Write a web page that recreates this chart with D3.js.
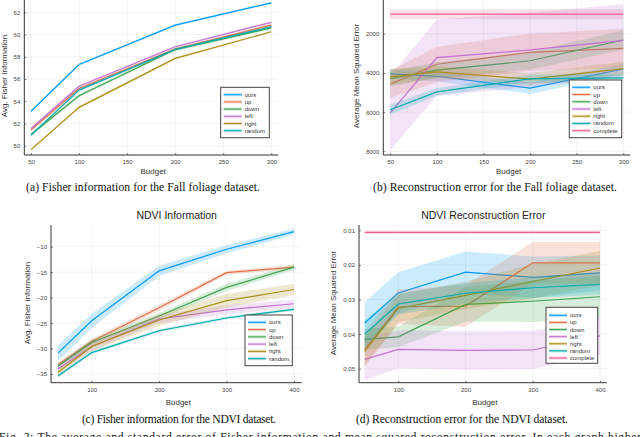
<!DOCTYPE html>
<html lang="en">
<head>
<meta charset="utf-8">
<title>Fisher information and reconstruction error</title>
<script src="https://cdn.jsdelivr.net/npm/d3@7"></script>
<style>
  body { margin: 0; background: #fff; }
  svg { display: block; }
  .tick text { font-family: "Liberation Sans", Arial, sans-serif; fill: #444; }
  .cap { font-family: "Liberation Serif", "Times New Roman", serif; fill: #111; }
</style>
</head>
<body>
<script>
// methods and colours (Julia Plots default palette)
var methods = ["ours", "up", "down", "left", "right", "random", "complete"];
var colors = ["#009AFA", "#E36F47", "#3EA44E", "#C371D2", "#AC8E18", "#00A9AD", "#ED5E93"];

var budgetFall = [50, 100, 200, 300];
var budgetNdvi = [50, 100, 200, 300, 400];

// (a) Fall foliage, Fisher information (ours, up, down, left, right, random)
var fallFisherMean = [
  [53.1, 57.3, 60.85, 62.85],
  [51.4, 55.15, 58.7, 60.85],
  [51.0, 54.5, 58.65, 60.6],
  [51.55, 55.35, 58.9, 61.1],
  [49.65, 53.45, 57.85, 60.25],
  [50.95, 55.0, 58.65, 60.7]
];
var fallFisherErr = [
  [0.1, 0.1, 0.1, 0.1],
  [0.12, 0.12, 0.12, 0.12],
  [0.15, 0.15, 0.15, 0.15],
  [0.12, 0.12, 0.12, 0.12],
  [0.1, 0.1, 0.1, 0.1],
  [0.12, 0.12, 0.12, 0.12]
];

// (b) Fall foliage, mean squared error (adds complete)
var fallMseMean = [
  [4050, 4170, 4780, 3800],
  [4580, 3560, 2950, 2750],
  [4300, 3860, 3380, 2320],
  [6040, 3220, 2830, 2340],
  [4200, 3950, 4320, 3780],
  [5880, 4970, 4300, 4250],
  [1000, 1000, 1000, 1000]
];
var fallMseErr = [
  [250, 250, 300, 250],
  [700, 900, 950, 1000],
  [400, 400, 450, 500],
  [1900, 1950, 1900, 1850],
  [400, 300, 300, 350],
  [250, 200, 200, 200],
  [250, 250, 250, 250]
];

// (c) NDVI, Fisher information
var ndviFisherMean = [
  [-30.9, -24.55, -14.75, -10.5, -7.05],
  [-33.2, -28.6, -22.0, -15.1, -14.0],
  [-33.5, -28.8, -23.6, -18.0, -14.0],
  [-34.0, -29.6, -24.2, -22.4, -21.2],
  [-34.7, -29.6, -24.4, -20.6, -18.4],
  [-35.4, -30.8, -26.5, -24.0, -22.3]
];
var ndviFisherErr = [
  [1.5, 1.4, 1.0, 0.8, 0.6],
  [0.4, 0.5, 0.6, 0.4, 0.4],
  [0.5, 0.6, 0.6, 0.7, 0.6],
  [0.6, 0.8, 0.8, 0.9, 0.8],
  [0.6, 0.9, 1.1, 1.3, 1.1],
  [0.3, 0.3, 0.3, 0.3, 0.3]
];

// (d) NDVI, mean squared error
var ndviMseMean = [
  [0.0368, 0.0281, 0.0221, 0.0236, 0.0223],
  [0.0445, 0.0321, 0.0319, 0.0194, 0.0194],
  [0.0415, 0.0408, 0.0314, 0.0305, 0.0292],
  [0.0473, 0.0444, 0.0447, 0.0446, 0.0405],
  [0.0450, 0.0326, 0.0288, 0.0248, 0.0209],
  [0.0400, 0.0313, 0.0282, 0.0266, 0.0256],
  [0.0106, 0.0106, 0.0106, 0.0106, 0.0106]
];
var ndviMseErr = [
  [0.006, 0.006, 0.006, 0.006, 0.005],
  [0.005, 0.005, 0.006, 0.006, 0.006],
  [0.003, 0.003, 0.005, 0.006, 0.006],
  [0.006, 0.0055, 0.0055, 0.0055, 0.0055],
  [0.004, 0.004, 0.004, 0.005, 0.005],
  [0.004, 0.003, 0.003, 0.003, 0.003],
  [0.0005, 0.0005, 0.0005, 0.0005, 0.0005]
];

var fallTicks = [50, 100, 150, 200, 250, 300];
var ndviTicks = [100, 200, 300, 400];

var svg = d3.select("body").append("svg")
  .attr("width", 640).attr("height", 437);

var clipId = 0;

function drawPanel(p) {
  var g = svg.append("g");
  var x = d3.scaleLinear().domain(p.xd).range(p.xr);
  var y = d3.scaleLinear().domain(p.yd).range(p.yr);
  var b = p.box;

  // grid
  g.selectAll(".gx").data(p.xticks).enter().append("line")
    .attr("x1", function(d) { return x(d); }).attr("x2", function(d) { return x(d); })
    .attr("y1", b.top).attr("y2", b.bottom)
    .attr("stroke", "#000").attr("stroke-opacity", 0.08).attr("stroke-width", 0.7);
  g.selectAll(".gy").data(p.yticks).enter().append("line")
    .attr("y1", function(d) { return y(d); }).attr("y2", function(d) { return y(d); })
    .attr("x1", b.left).attr("x2", b.right)
    .attr("stroke", "#000").attr("stroke-opacity", 0.08).attr("stroke-width", 0.7);

  // series
  var cid = "clip" + (clipId++);
  g.append("clipPath").attr("id", cid).append("rect")
    .attr("x", b.left).attr("y", b.top)
    .attr("width", b.right - b.left).attr("height", b.bottom - b.top);
  var plot = g.append("g").attr("clip-path", "url(#" + cid + ")");

  var area = d3.area()
    .x(function(d) { return x(d.b); })
    .y0(function(d) { return y(d.m - d.e); })
    .y1(function(d) { return y(d.m + d.e); });
  var line = d3.line()
    .x(function(d) { return x(d.b); })
    .y(function(d) { return y(d.m); });

  p.mean.forEach(function(ms, i) {
    var pts = ms.map(function(m, j) { return { b: p.budget[j], m: m, e: p.err[i][j] }; });
    plot.append("path").datum(pts).attr("d", area)
      .attr("fill", colors[i]).attr("fill-opacity", 0.2).attr("stroke", "none");
    plot.append("path").datum(pts).attr("d", line)
      .attr("fill", "none").attr("stroke", colors[i]).attr("stroke-width", 1.2);
  });

  // axes
  var xa = g.append("g").attr("transform", "translate(0," + b.bottom + ")")
    .call(d3.axisBottom(x).tickValues(p.xticks).tickSizeInner(-2).tickSizeOuter(0).tickPadding(5));
  var ya = g.append("g").attr("transform", "translate(" + b.left + ",0)")
    .call(d3.axisLeft(y).tickValues(p.yticks).tickFormat(p.yfmt).tickSizeInner(-2).tickSizeOuter(0).tickPadding(4));
  [xa, ya].forEach(function(a) {
    a.select(".domain").remove();
    a.selectAll(".tick line").attr("stroke", "#333").attr("stroke-width", 0.6);
    a.selectAll(".tick text").attr("font-size", 6);
  });
  g.append("line").attr("x1", b.left).attr("x2", b.right).attr("y1", b.bottom).attr("y2", b.bottom)
    .attr("stroke", "#333").attr("stroke-width", 1);
  g.append("line").attr("x1", b.left).attr("x2", b.left).attr("y1", b.top).attr("y2", b.bottom)
    .attr("stroke", "#333").attr("stroke-width", 1);

  // labels
  var sans = "'Liberation Sans', Arial, sans-serif";
  g.append("text").attr("x", (b.left + b.right) / 2 + 2).attr("y", p.xlabY)
    .attr("text-anchor", "middle").attr("font-family", sans).attr("font-size", 8)
    .attr("fill", "#333").text("Budget");
  g.append("text").attr("transform", "translate(" + p.ylabX + "," + p.ylabCy + ") rotate(-90)")
    .attr("text-anchor", "middle").attr("dominant-baseline", "central")
    .attr("font-family", sans).attr("font-size", 8).attr("fill", "#333").text(p.ylab);
  if (p.title) {
    g.append("text").attr("x", p.titleX).attr("y", p.titleY)
      .attr("text-anchor", "middle").attr("font-family", sans).attr("font-size", 10.5)
      .attr("fill", "#222").text(p.title);
  }

  // legend
  var L = p.legend;
  var n = p.mean.length;
  g.append("rect").attr("x", L.x).attr("y", L.y).attr("width", L.w).attr("height", L.h)
    .attr("fill", "#fff").attr("stroke", "#444").attr("stroke-width", 1);
  var items = g.selectAll(".leg").data(methods.slice(0, n)).enter().append("g")
    .attr("transform", function(d, i) { return "translate(" + L.x + "," + (L.y0 + i * L.step) + ")"; });
  items.append("line").attr("x1", 3).attr("x2", 21).attr("y1", 0).attr("y2", 0)
    .attr("stroke", function(d, i) { return colors[i]; }).attr("stroke-opacity", 0.3).attr("stroke-width", 3);
  items.append("line").attr("x1", 3).attr("x2", 21).attr("y1", 0).attr("y2", 0)
    .attr("stroke", function(d, i) { return colors[i]; }).attr("stroke-width", 1);
  items.append("text").attr("x", 24).attr("y", 0).attr("dominant-baseline", "central")
    .attr("font-family", sans).attr("font-size", 6).attr("fill", "#333")
    .text(function(d) { return d; });
}

var minus = function(d) { return d < 0 ? "\u2212" + Math.abs(d) : String(d); };

drawPanel({
  budget: budgetFall, mean: fallFisherMean, err: fallFisherErr,
  xd: [50, 300], xr: [31, 271.3], yd: [50, 62], yr: [145.7, 12.3],
  box: { left: 24.3, right: 278, top: -2, bottom: 155 },
  xticks: fallTicks, yticks: [50, 52, 54, 56, 58, 60, 62], yfmt: d3.format("d"),
  xlabY: 174, ylab: "Avg. Fisher Information", ylabX: 4, ylabCy: 76,
  legend: { x: 220.7, y: 87.3, w: 48.6, h: 50.4, y0: 94.7, step: 7.2 }
});

drawPanel({
  budget: budgetFall, mean: fallMseMean, err: fallMseErr,
  xd: [50, 300], xr: [390.3, 623.3], yd: [2000, 8000], yr: [33.7, 151.3],
  box: { left: 383.3, right: 630, top: -2, bottom: 155 },
  xticks: fallTicks, yticks: [2000, 4000, 6000, 8000], yfmt: d3.format("d"),
  xlabY: 174, ylab: "Average Mean Squared Error", ylabX: 356, ylabCy: 76,
  legend: { x: 569.3, y: 80, w: 52.4, h: 57.7, y0: 87.3, step: 7.23 }
});

drawPanel({
  budget: budgetNdvi, mean: ndviFisherMean, err: ndviFisherErr,
  xd: [100, 400], xr: [91.7, 294], yd: [-10, -35], yr: [246.7, 374],
  box: { left: 51, right: 301.7, top: 225, bottom: 382.7 },
  xticks: ndviTicks, yticks: [-10, -15, -20, -25, -30, -35], yfmt: minus,
  xlabY: 405, ylab: "Avg. Fisher Information", ylabX: 27, ylabCy: 303,
  title: "NDVI Information", titleX: 176.7, titleY: 219,
  legend: { x: 245, y: 315, w: 47.3, h: 50.7, y0: 322.3, step: 7.27 }
});

drawPanel({
  budget: budgetNdvi, mean: ndviMseMean, err: ndviMseErr,
  xd: [100, 400], xr: [398.3, 600], yd: [0.01, 0.05], yr: [230.3, 368.7],
  box: { left: 359, right: 606.7, top: 225, bottom: 382.7 },
  xticks: ndviTicks, yticks: [0.01, 0.02, 0.03, 0.04, 0.05], yfmt: d3.format(".2f"),
  xlabY: 405, ylab: "Average Mean Squared Error", ylabX: 333, ylabCy: 303,
  title: "NDVI Reconstruction Error", titleX: 483.3, titleY: 219,
  legend: { x: 546, y: 307.3, w: 51.7, h: 56, y0: 315.3, step: 7.12 }
});

// captions (justified in the source, so stretch to measured widths)
var caps = [
  { x: 26, w: 234, y: 190.7, t: "(a) Fisher information for the Fall foliage dataset." },
  { x: 373, w: 244, y: 190.7, t: "(b) Reconstruction error for the Fall foliage dataset." },
  { x: 82, w: 194, y: 423, t: "(c) Fisher information for the NDVI dataset." },
  { x: 356, w: 212, y: 423, t: "(d) Reconstruction error for the NDVI dataset." }
];
svg.selectAll(".cap").data(caps).enter().append("text").attr("class", "cap")
  .attr("x", function(d) { return d.x; }).attr("y", function(d) { return d.y; })
  .attr("font-size", 11.6)
  .attr("textLength", function(d) { return d.w; }).attr("lengthAdjust", "spacing")
  .text(function(d) { return d.t; });
svg.append("text").attr("class", "cap").attr("x", -1).attr("y", 441).attr("font-size", 11.6)
  .attr("textLength", 642).attr("lengthAdjust", "spacing")
  .text("Fig. 2: The average and standard error of Fisher information and mean squared reconstruction error. In each graph higher");
</script>
</body>
</html>
